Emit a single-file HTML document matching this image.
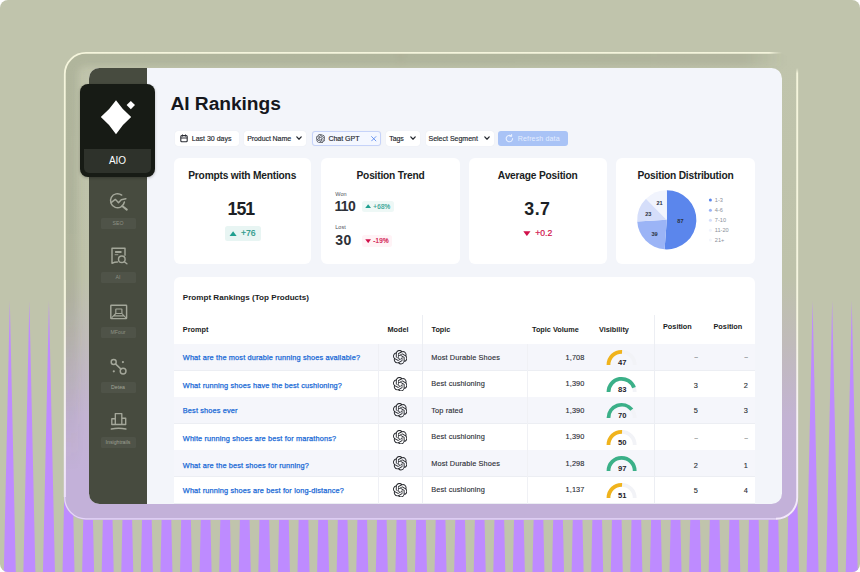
<!DOCTYPE html>
<html lang="en">
<head>
<meta charset="utf-8">
<title>AI Rankings</title>
<style>
*{box-sizing:border-box;margin:0;padding:0}
html,body{width:860px;height:572px;background:#fff;overflow:hidden}
body{font-family:"Liberation Sans",Arial,sans-serif;color:#16181d;-webkit-font-smoothing:antialiased}
#stage{position:absolute;left:0;top:0;width:860px;height:572px;background:#c0c4ac;border-radius:8px;overflow:hidden}
#spikes{position:absolute;left:0;top:0}
#frame{position:absolute;left:64px;top:52px;width:734px;height:467.5px;border-radius:22px;
 background:linear-gradient(180deg,#c0c4ac 0%,#bec2aa 48%,#c0bbba 62%,#c3b3d3 78%,#c3b1d9 90%,#c3b1d9 100%)}
#frameline{position:absolute;left:0;top:0}
#win{position:absolute;left:88.5px;top:68px;width:693.5px;height:436px;border-radius:10.5px;background:#f3f5fa;overflow:hidden}
#side{position:absolute;left:0;top:0;width:58px;height:436px;background:#474b3f}
#aio{position:absolute;left:80px;top:83.5px;width:75px;height:93.5px;border-radius:8px;background:#171b15;box-shadow:0 1px 3px rgba(0,0,0,.25)}
#aio .band{position:absolute;left:4px;top:65px;width:67px;height:24.5px;border-radius:0 0 5px 5px;background:#2e322b}
#aio .lbl{position:absolute;left:0;top:70px;width:75px;text-align:center;font-size:10px;line-height:14px;color:#fff;letter-spacing:0}
.abs{position:absolute;white-space:nowrap}
.nav{position:absolute;left:0;width:58px;text-align:center}
.navlbl{position:absolute;width:35px;height:11px;border-radius:1.5px;background:#4f5348;color:#8e9185;font-size:5.2px;line-height:11px;text-align:center}
.ico{position:absolute;stroke:#a9ac9f;fill:none;stroke-width:1.6;stroke-linecap:round;stroke-linejoin:round}

#L{position:absolute;left:-88.5px;top:-68px;width:860px;height:572px}
.btn{position:absolute;background:#fff;border-radius:3px;box-shadow:0 0 1px rgba(40,50,80,.10)}
.f{font-size:7px;line-height:10.5px;color:#24272e;letter-spacing:0;-webkit-text-stroke:.15px #24272e}
.chev{fill:none;stroke:#24272e;stroke-width:1.25;stroke-linecap:round;stroke-linejoin:round}
.card{position:absolute;background:#fff;border-radius:6px}
.ct{text-align:center;font-size:10.2px;line-height:14px;font-weight:700;color:#1a1d23;letter-spacing:-.2px}
.big{text-align:center;font-size:17.8px;line-height:25px;font-weight:700;color:#1c1f25}
.mid{font-size:14px;line-height:19px;color:#2e3138;font-weight:700}
.sm{font-size:5.5px;line-height:8px;color:#4d525c}
.badge{position:absolute;border-radius:2.5px}
.badge.up{background:#eef8f6}
.badge.dn{background:#fff3f6}
.th{font-size:7.3px;line-height:10px;font-weight:700;color:#1a1d23}
.td{font-size:7.35px;line-height:10px;color:#2a2d34;letter-spacing:.12px;-webkit-text-stroke:.12px #2a2d34}
.lk{font-size:7.35px;line-height:10px;color:#1a6ad6;letter-spacing:.15px;-webkit-text-stroke:.25px #1a6ad6}
.ds{font-size:6px}
.gv{font-size:7.6px;line-height:10px;font-weight:700;color:#1f2229;text-align:center}
</style>
</head>
<body>
<div id="stage">
<svg id="spikes" width="860" height="572" viewBox="0 0 860 572" fill="#be8bff">
<polygon points="3.80,572 9.80,301 15.80,572"/>
<polygon points="23.38,572 29.38,301 35.38,572"/>
<polygon points="42.96,572 48.96,301 54.96,572"/>
<polygon points="62.54,572 68.54,301 74.54,572"/>
<polygon points="82.12,572 88.12,301 94.12,572"/>
<polygon points="101.70,572 107.70,301 113.70,572"/>
<polygon points="121.28,572 127.28,301 133.28,572"/>
<polygon points="140.86,572 146.86,301 152.86,572"/>
<polygon points="160.44,572 166.44,301 172.44,572"/>
<polygon points="180.02,572 186.02,301 192.02,572"/>
<polygon points="199.60,572 205.60,301 211.60,572"/>
<polygon points="219.18,572 225.18,301 231.18,572"/>
<polygon points="238.76,572 244.76,301 250.76,572"/>
<polygon points="258.34,572 264.34,301 270.34,572"/>
<polygon points="277.92,572 283.92,301 289.92,572"/>
<polygon points="297.50,572 303.50,301 309.50,572"/>
<polygon points="317.08,572 323.08,301 329.08,572"/>
<polygon points="336.66,572 342.66,301 348.66,572"/>
<polygon points="356.24,572 362.24,301 368.24,572"/>
<polygon points="375.82,572 381.82,301 387.82,572"/>
<polygon points="395.40,572 401.40,301 407.40,572"/>
<polygon points="414.98,572 420.98,301 426.98,572"/>
<polygon points="434.56,572 440.56,301 446.56,572"/>
<polygon points="454.14,572 460.14,301 466.14,572"/>
<polygon points="473.72,572 479.72,301 485.72,572"/>
<polygon points="493.30,572 499.30,301 505.30,572"/>
<polygon points="512.88,572 518.88,301 524.88,572"/>
<polygon points="532.46,572 538.46,301 544.46,572"/>
<polygon points="552.04,572 558.04,301 564.04,572"/>
<polygon points="571.62,572 577.62,301 583.62,572"/>
<polygon points="591.20,572 597.20,301 603.20,572"/>
<polygon points="610.78,572 616.78,301 622.78,572"/>
<polygon points="630.36,572 636.36,301 642.36,572"/>
<polygon points="649.94,572 655.94,301 661.94,572"/>
<polygon points="669.52,572 675.52,301 681.52,572"/>
<polygon points="689.10,572 695.10,301 701.10,572"/>
<polygon points="708.68,572 714.68,301 720.68,572"/>
<polygon points="728.26,572 734.26,301 740.26,572"/>
<polygon points="747.84,572 753.84,301 759.84,572"/>
<polygon points="767.42,572 773.42,301 779.42,572"/>
<polygon points="787.00,572 793.00,301 799.00,572"/>
<polygon points="806.58,572 812.58,301 818.58,572"/>
<polygon points="826.16,572 832.16,301 838.16,572"/>
<polygon points="845.74,572 851.74,301 857.74,572"/>
</svg>
<svg width="0" height="0" style="position:absolute"><defs><path id="oai" d="M22.2819 9.8211a5.9847 5.9847 0 0 0-.5157-4.9108 6.0462 6.0462 0 0 0-6.5098-2.9A6.0651 6.0651 0 0 0 4.9807 4.1818a5.9847 5.9847 0 0 0-3.9977 2.9 6.0462 6.0462 0 0 0 .7427 7.0966 5.98 5.98 0 0 0 .511 4.9107 6.051 6.051 0 0 0 6.5146 2.9001A5.9847 5.9847 0 0 0 13.2599 24a6.0557 6.0557 0 0 0 5.7718-4.2058 5.9894 5.9894 0 0 0 3.9977-2.9001 6.0557 6.0557 0 0 0-.7475-7.0729zm-9.022 12.6081a4.4755 4.4755 0 0 1-2.8764-1.0408l.1419-.0804 4.7783-2.7582a.7948.7948 0 0 0 .3927-.6813v-6.7369l2.02 1.1686a.071.071 0 0 1 .038.052v5.5826a4.504 4.504 0 0 1-4.4945 4.4944zm-9.6607-4.1254a4.4708 4.4708 0 0 1-.5346-3.0137l.142.0852 4.783 2.7582a.7712.7712 0 0 0 .7806 0l5.8428-3.3685v2.3324a.0804.0804 0 0 1-.0332.0615L9.74 19.9502a4.4992 4.4992 0 0 1-6.1408-1.6464zM2.3408 7.8956a4.485 4.485 0 0 1 2.3655-1.9728V11.6a.7664.7664 0 0 0 .3879.6765l5.8144 3.3543-2.0201 1.1685a.0757.0757 0 0 1-.071 0l-4.8303-2.7865A4.504 4.504 0 0 1 2.3408 7.872zm16.5963 3.8558L13.1038 8.364 15.1192 7.2a.0757.0757 0 0 1 .071 0l4.8303 2.7913a4.4944 4.4944 0 0 1-.6765 8.1042v-5.6772a.79.79 0 0 0-.407-.667zm2.0107-3.0231l-.142-.0852-4.7735-2.7818a.7759.7759 0 0 0-.7854 0L9.409 9.2297V6.8974a.0662.0662 0 0 1 .0284-.0615l4.8303-2.7866a4.4992 4.4992 0 0 1 6.6802 4.66zM8.3065 12.863l-2.02-1.1638a.0804.0804 0 0 1-.038-.0567V6.0742a4.4992 4.4992 0 0 1 7.3757-3.4537l-.142.0805L8.704 5.459a.7948.7948 0 0 0-.3927.6813zm1.0976-2.3654l2.602-1.4998 2.6069 1.4998v2.9994l-2.5974 1.4997-2.6067-1.4997Z"/></defs></svg>
<div id="frame"></div>
<svg id="frameline" width="860" height="572" viewBox="0 0 860 572" fill="none">
<defs>
<linearGradient id="gl" x1="0" y1="52" x2="0" y2="519" gradientUnits="userSpaceOnUse">
<stop offset="0" stop-color="#f5f5dc"/><stop offset=".55" stop-color="#f3f3dc"/><stop offset=".85" stop-color="#f3ecf6"/><stop offset="1" stop-color="#e9d9fb"/>
</linearGradient>
<linearGradient id="gt" x1="64" y1="0" x2="782" y2="0" gradientUnits="userSpaceOnUse">
<stop offset="0" stop-color="#f5f5dc"/><stop offset=".982" stop-color="#f4f4dc"/><stop offset="1" stop-color="#eeeed6" stop-opacity="0"/>
</linearGradient>
<linearGradient id="gr" x1="0" y1="68" x2="0" y2="519" gradientUnits="userSpaceOnUse">
<stop offset="0" stop-color="#f3f3da" stop-opacity="0"/><stop offset=".012" stop-color="#f5f5dc"/><stop offset=".55" stop-color="#f5f5e0"/><stop offset=".8" stop-color="#f6f0f6"/><stop offset="1" stop-color="#f3e8fc"/>
</linearGradient>
<linearGradient id="sa" x1="0" y1="52" x2="0" y2="470" gradientUnits="userSpaceOnUse"><stop offset="0" stop-color="#5f644b" stop-opacity=".17"/><stop offset=".6" stop-color="#5f644b" stop-opacity=".16"/><stop offset="1" stop-color="#5f644b" stop-opacity="0"/></linearGradient>
<linearGradient id="sb" x1="400" y1="0" x2="784" y2="0" gradientUnits="userSpaceOnUse"><stop offset="0" stop-color="#5f644b" stop-opacity=".17"/><stop offset=".9" stop-color="#5f644b" stop-opacity=".16"/><stop offset="1" stop-color="#5f644b" stop-opacity="0"/></linearGradient>
<filter id="bl" x="-5%" y="-5%" width="110%" height="110%"><feGaussianBlur stdDeviation="3.500"/></filter>
<clipPath id="fc"><rect x="64.700" y="52.700" width="732.600" height="466.100" rx="21.300"/></clipPath>
</defs>
<g clip-path="url(#fc)"><g filter="url(#bl)"><path d="M65 470 V74 A21 21 0 0 1 86 53 H401" stroke="url(#sa)" stroke-width="26"/><path d="M400 53 H784" stroke="url(#sb)" stroke-width="26"/></g></g>
<path d="M64.800 497 V74 A21.200 21.200 0 0 1 86 52.900" stroke="url(#gl)" stroke-width="1.800"/>
<path d="M64.7 300 V497 A21.3 21.3 0 0 0 86 518.8 H776 " stroke="#e6d6fa" stroke-width="1.3"/>
<path d="M64.800 280 V497" stroke="url(#gl)" stroke-width="1.800"/>
<path d="M86 52.900 H782" stroke="url(#gt)" stroke-width="1.900"/>
<path d="M797.200 68 V497 A21.3 21.3 0 0 1 776 518.8" stroke="url(#gr)" stroke-width="1.900"/>
</svg>
<div id="win">
<div id="side"></div>
<div id="L">
<div class="abs t" id="title" style="left:170.5px;top:90.800px;font-size:19.2px;line-height:26px;font-weight:700;color:#15171c;letter-spacing:-.05px">AI Rankings</div>

<!-- filters -->
<div class="btn" style="left:174.5px;top:131.3px;width:64px;height:14.4px"></div>
<svg class="abs" style="left:179.5px;top:134.3px" width="8" height="8.6" viewBox="0 0 8 8.6" fill="none" stroke="#2a2d34" stroke-width="1.1"><rect x=".8" y="1.6" width="6.4" height="6.2" rx="1"/><path d="M.8 4h6.4M2.5.4v2M5.500.4v2"/></svg>
<div class="abs f" id="f1" style="left:191.8px;top:133.800px">Last 30 days</div>
<div class="btn" style="left:243.8px;top:131.3px;width:62px;height:14.4px"></div>
<div class="abs f" id="f2" style="letter-spacing:-.08px;left:247.2px;top:133.800px">Product Name</div>
<svg class="abs chev" style="left:296.200px;top:136.3px" width="6" height="4.500" viewBox="0 0 6 4.500"><path d="M.8.900 3 3.200 5.200.900"/></svg>
<div class="btn" style="left:311.8px;top:131.3px;width:69px;height:14.6px;background:#f4f7ff;border:1px solid #c6d3f9"></div>
<svg class="abs" style="left:316px;top:134px" width="9.200" height="9.200" viewBox="0 0 24 24" fill="#2a2d34"><use href="#oai"/></svg>
<div class="abs f" id="f3" style="left:328.400px;top:133.800px">Chat GPT</div>
<svg class="abs" style="left:371px;top:136px" width="5.500" height="5.500" viewBox="0 0 5.500 5.500" fill="none" stroke="#5d8cee" stroke-width=".9" stroke-linecap="round"><path d="M.6.600 4.900 4.900M4.900.6.600 4.900"/></svg>
<div class="btn" style="left:386px;top:131.3px;width:33.800px;height:14.4px"></div>
<div class="abs f" id="f4" style="letter-spacing:-.15px;left:389.300px;top:133.800px">Tags</div>
<svg class="abs chev" style="left:409.800px;top:136.3px" width="6" height="4.500" viewBox="0 0 6 4.500"><path d="M.8.900 3 3.200 5.200.900"/></svg>
<div class="btn" style="left:425.600px;top:131.3px;width:68px;height:14.4px"></div>
<div class="abs f" id="f5" style="left:428.500px;top:133.800px">Select Segment</div>
<svg class="abs chev" style="left:483.700px;top:136.3px" width="6" height="4.500" viewBox="0 0 6 4.500"><path d="M.8.900 3 3.200 5.200.900"/></svg>
<div class="btn" style="left:498.400px;top:131.200px;width:70px;height:14.800px;background:#a9c3f6;border-radius:3px;box-shadow:none"></div>
<svg class="abs" style="left:504.500px;top:134.200px" width="9" height="9" viewBox="0 0 9 9" fill="none" stroke="#e8f0ff" stroke-width="1.100" stroke-linecap="round" stroke-linejoin="round"><path d="M7.600 4.600A3.200 3.200 0 1 1 6.300 2"/><path d="M6.600.6v1.700H4.900"/></svg>
<div class="abs f" id="f6" style="letter-spacing:.15px;-webkit-text-stroke:0;left:517.800px;top:133.800px;color:#e4edff">Refresh data</div>

<!-- stat cards -->
<div class="card" style="left:173.700px;top:157.700px;width:137px;height:106.300px"></div>
<div class="card" style="left:321.300px;top:157.700px;width:138.400px;height:106.300px"></div>
<div class="card" style="left:468.700px;top:157.700px;width:138px;height:106.300px"></div>
<div class="card" style="left:616.300px;top:157.700px;width:138.400px;height:106.300px"></div>

<div class="abs ct" id="c1t" style="margin-top:.6px;left:173.700px;width:137px;top:168px">Prompts with Mentions</div>
<div class="abs big" id="c1n" style="letter-spacing:-1px;margin-top:1.100px;margin-left:-1.300px;left:173.700px;width:137px;top:196px">151</div>
<div class="badge up" style="left:225px;top:226px;width:35.500px;height:14.700px;background:#e8f5f3"></div>
<svg class="abs" style="left:228.900px;top:230.700px" width="8.200" height="5.700" viewBox="0 0 8 5.500" fill="#1f9f8f"><path d="M4 .3 7.700 5.200H.3z"/></svg>
<div class="abs" id="c1b" style="left:241px;top:227.300px;font-size:8.600px;line-height:12px;color:#1f9586;-webkit-text-stroke:.2px #1f9586">+76</div>

<div class="abs ct" id="c2t" style="margin-top:.6px;left:321.300px;width:138.400px;top:168px">Position Trend</div>
<div class="abs sm" id="c2a" style="left:335.300px;top:189.500px">Won</div>
<div class="abs mid" id="c2b" style="letter-spacing:-.6px;margin-top:-.5px;left:334.400px;top:197.500px">110</div>
<div class="badge up" style="left:362px;top:200.800px;width:31.500px;height:11.500px"></div>
<svg class="abs" style="left:365px;top:204.300px" width="6.300" height="4.400" viewBox="0 0 8 5.500" fill="#1f9f8f"><path d="M4 .3 7.700 5.200H.3z"/></svg>
<div class="abs" id="c2c" style="left:373.300px;top:201.500px;font-size:6.300px;line-height:10px;color:#2ea191;-webkit-text-stroke:.15px #2ea191;letter-spacing:.2px">+68%</div>
<div class="abs sm" id="c2d" style="left:335.300px;top:223px">Lost</div>
<div class="abs mid" id="c2e" style="letter-spacing:.6px;margin-top:-.3px;left:335.200px;top:231.500px">30</div>
<div class="badge dn" style="left:362px;top:235px;width:30px;height:11.500px"></div>
<svg class="abs" style="left:365px;top:238.700px" width="6.300" height="4.400" viewBox="0 0 8 5.500" fill="#d1104a"><path d="M4 5.200 7.700.3H.3z"/></svg>
<div class="abs" id="c2f" style="left:373.300px;top:235.800px;font-size:6.300px;line-height:10px;color:#d1104a;-webkit-text-stroke:.2px #d1104a;letter-spacing:.2px">-19%</div>

<div class="abs ct" id="c3t" style="margin-top:.6px;left:468.700px;width:138px;top:168px">Average Position</div>
<div class="abs big" id="c3n" style="letter-spacing:.5px;margin-top:1.100px;margin-left:-.3px;left:468.700px;width:138px;top:196px">3.7</div>
<div class="badge dn" style="left:520.500px;top:225.500px;width:36px;height:14.700px;background:#fff"></div>
<svg class="abs" style="left:523.100px;top:230.800px" width="7.800" height="5.400" viewBox="0 0 8 5.500" fill="#d1104a"><path d="M4 5.200 7.700.3H.3z"/></svg>
<div class="abs" id="c3b" style="left:535.300px;top:227px;font-size:8.600px;line-height:12px;color:#d1104a;-webkit-text-stroke:.2px #d1104a">+0.2</div>

<div class="abs ct" id="c4t" style="margin-top:.6px;left:616.300px;width:138.400px;top:168px">Position Distribution</div>
<svg class="abs" style="left:630px;top:185px" width="130" height="70" viewBox="630 185 130 70">
<path d="M666.8 219.8 L666.80 190.20 A29.6 29.6 0 1 1 664.61 249.32Z" fill="#5b86ec"/>
<path d="M666.8 219.8 L664.61 249.32 A29.6 29.6 0 0 1 637.25 221.44Z" fill="#9bb4f6"/>
<path d="M666.8 219.8 L637.25 221.44 A29.6 29.6 0 0 1 646.06 198.68Z" fill="#d5defa"/>
<path d="M666.8 219.8 L646.06 198.68 A29.6 29.6 0 0 1 666.80 190.20Z" fill="#f1f4fd"/>
<text x="680.4" y="223.3" text-anchor="middle" font-size="5.600" font-weight="700" fill="#2b3140" font-family="Liberation Sans,sans-serif">87</text>
<text x="654.6" y="235.5" text-anchor="middle" font-size="5.600" font-weight="700" fill="#2b3140" font-family="Liberation Sans,sans-serif">39</text>
<text x="648.3" y="215.60000000000002" text-anchor="middle" font-size="5.600" font-weight="700" fill="#2b3140" font-family="Liberation Sans,sans-serif">23</text>
<text x="659.5" y="204.8" text-anchor="middle" font-size="5.600" font-weight="700" fill="#2b3140" font-family="Liberation Sans,sans-serif">21</text>
<circle cx="710.4" cy="199.9" r="1.5" fill="#5b86ec"/><text x="714.8" y="201.8" font-size="5.600" fill="#8a8f9a" font-family="Liberation Sans,sans-serif">1-3</text>
<circle cx="710.4" cy="210.3" r="1.5" fill="#9bb4f6"/><text x="714.8" y="212.20000000000002" font-size="5.600" fill="#8a8f9a" font-family="Liberation Sans,sans-serif">4-6</text>
<circle cx="710.4" cy="220.2" r="1.5" fill="#d5defa"/><text x="714.8" y="222.1" font-size="5.600" fill="#8a8f9a" font-family="Liberation Sans,sans-serif">7-10</text>
<circle cx="710.4" cy="230.2" r="1.5" fill="#f1f4fd"/><text x="714.8" y="232.1" font-size="5.600" fill="#8a8f9a" font-family="Liberation Sans,sans-serif">11-20</text>
<circle cx="710.4" cy="240" r="1.5" fill="#f4f6fc"/><text x="714.8" y="241.9" font-size="5.600" fill="#8a8f9a" font-family="Liberation Sans,sans-serif">21+</text>

</svg>
<div class="card" style="left:173.700px;top:277px;width:581px;height:240px;border-radius:6px 6px 0 0"></div>
<div class="abs" id="tt" style="left:182.800px;top:291.500px;font-size:8.100px;line-height:12px;font-weight:700;color:#1b1e25">Prompt Rankings (Top Products)</div>
<div class="abs th" id="h1" style="left:182.8px;top:324.6px">Prompt</div>
<div class="abs th" id="h2" style="left:387.5px;top:324.6px">Model</div>
<div class="abs th" id="h3" style="left:431.5px;top:324.6px">Topic</div>
<div class="abs th" id="h4" style="left:532px;top:324.6px">Topic Volume</div>
<div class="abs th" id="h5" style="left:599px;top:324.6px">Visibility</div>
<div class="abs th" id="h6" style="left:663px;top:321.5px">Position</div>
<div class="abs th" id="h7" style="left:713.5px;top:321.5px">Position</div>
<div class="abs" style="left:173.700px;top:344.0px;width:581px;height:26.5px;background:#f5f6fb"></div>
<div class="abs" style="left:173.700px;top:370.0px;width:581px;height:1px;background:#eceef3"></div>
<div class="abs" style="left:173.700px;top:396.5px;width:581px;height:1px;background:#eceef3"></div>
<div class="abs" style="left:173.700px;top:397.0px;width:581px;height:26.5px;background:#f5f6fb"></div>
<div class="abs" style="left:173.700px;top:423.0px;width:581px;height:1px;background:#eceef3"></div>
<div class="abs" style="left:173.700px;top:449.5px;width:581px;height:1px;background:#eceef3"></div>
<div class="abs" style="left:173.700px;top:450.0px;width:581px;height:26.5px;background:#f5f6fb"></div>
<div class="abs" style="left:173.700px;top:476.0px;width:581px;height:1px;background:#eceef3"></div>
<div class="abs" style="left:173.700px;top:502.5px;width:581px;height:1px;background:#eceef3"></div>
<div class="abs" style="left:378px;top:344px;width:1px;height:170px;background:#eff0f5"></div>
<div class="abs" style="left:422px;top:315px;width:1px;height:200px;background:#eceef3"></div>
<div class="abs" style="left:526.500px;top:344px;width:1px;height:170px;background:#f0f1f5"></div>
<div class="abs" style="left:654.200px;top:315px;width:1px;height:200px;background:#eceef3"></div>
<div class="abs lk" id="p0" style="left:182.800px;top:352.70px">What are the most durable running shoes available?</div>
<svg class="abs" style="left:393px;top:350.35px" width="14.400" height="14.400" viewBox="0 0 24 24" fill="#25272c"><use href="#oai"/></svg>
<div class="abs td" id="t0" style="left:431.300px;top:352.95px">Most Durable Shoes</div>
<div class="abs td" id="v0" style="left:540px;width:44.500px;text-align:right;top:352.95px">1,708</div>
<svg class="abs" style="left:600px;top:344.0px" width="44" height="26.5" viewBox="600 344.0 44 26.5" fill="none" stroke-width="3.8"><path d="M608.5 364.9 A13.1 13.1 0 0 1 634.7 364.9" stroke="#f2f3f7"/><path d="M608.5 364.9 A13.1 13.1 0 0 1 622.06 351.81" stroke="#f0b31c"/></svg>
<div class="abs gv" id="g0" style="left:612.200px;width:20px;top:358.00px">47</div>
<div class="abs td" id="a0" style="left:677px;width:21px;text-align:right;top:352.00px"><span class="ds">–</span></div>
<div class="abs td" id="b0" style="left:727px;width:21px;text-align:right;top:352.00px"><span class="ds">–</span></div>
<div class="abs lk" id="p1" style="left:182.800px;top:380.70px">What running shoes have the best cushioning?</div>
<svg class="abs" style="left:393px;top:376.85px" width="14.400" height="14.400" viewBox="0 0 24 24" fill="#25272c"><use href="#oai"/></svg>
<div class="abs td" id="t1" style="left:431.300px;top:379.45px">Best cushioning</div>
<div class="abs td" id="v1" style="left:540px;width:44.500px;text-align:right;top:379.45px">1,390</div>
<svg class="abs" style="left:600px;top:370.5px" width="44" height="26.5" viewBox="600 370.5 44 26.5" fill="none" stroke-width="3.8"><path d="M608.5 391.4 A13.1 13.1 0 0 1 634.7 391.4" stroke="#f2f3f7"/><path d="M608.5 391.4 A13.1 13.1 0 0 1 633.99 387.14" stroke="#3bb088"/></svg>
<div class="abs gv" id="g1" style="left:612.200px;width:20px;top:384.50px">83</div>
<div class="abs td" id="a1" style="left:677px;width:21px;text-align:right;top:380.70px">3</div>
<div class="abs td" id="b1" style="left:727px;width:21px;text-align:right;top:380.70px">2</div>
<div class="abs lk" id="p2" style="left:182.800px;top:405.70px">Best shoes ever</div>
<svg class="abs" style="left:393px;top:403.35px" width="14.400" height="14.400" viewBox="0 0 24 24" fill="#25272c"><use href="#oai"/></svg>
<div class="abs td" id="t2" style="left:431.300px;top:405.95px">Top rated</div>
<div class="abs td" id="v2" style="left:540px;width:44.500px;text-align:right;top:405.95px">1,390</div>
<svg class="abs" style="left:600px;top:397.0px" width="44" height="26.5" viewBox="600 397.0 44 26.5" fill="none" stroke-width="3.8"><path d="M608.5 417.9 A13.1 13.1 0 0 1 634.7 417.9" stroke="#f2f3f7"/><path d="M608.5 417.9 A13.1 13.1 0 0 1 631.78 409.66" stroke="#3bb088"/></svg>
<div class="abs gv" id="g2" style="left:612.200px;width:20px;top:411.00px">70</div>
<div class="abs td" id="a2" style="left:677px;width:21px;text-align:right;top:405.70px">5</div>
<div class="abs td" id="b2" style="left:727px;width:21px;text-align:right;top:405.70px">3</div>
<div class="abs lk" id="p3" style="left:182.800px;top:433.70px">White running shoes are best for marathons?</div>
<svg class="abs" style="left:393px;top:429.85px" width="14.400" height="14.400" viewBox="0 0 24 24" fill="#25272c"><use href="#oai"/></svg>
<div class="abs td" id="t3" style="left:431.300px;top:432.45px">Best cushioning</div>
<div class="abs td" id="v3" style="left:540px;width:44.500px;text-align:right;top:432.45px">1,390</div>
<svg class="abs" style="left:600px;top:423.5px" width="44" height="26.5" viewBox="600 423.5 44 26.5" fill="none" stroke-width="3.8"><path d="M608.5 444.4 A13.1 13.1 0 0 1 634.7 444.4" stroke="#f2f3f7"/><path d="M608.5 444.4 A13.1 13.1 0 0 1 622.06 431.31" stroke="#f0b31c"/></svg>
<div class="abs gv" id="g3" style="left:612.200px;width:20px;top:437.50px">50</div>
<div class="abs td" id="a3" style="left:677px;width:21px;text-align:right;top:433.00px"><span class="ds">–</span></div>
<div class="abs td" id="b3" style="left:727px;width:21px;text-align:right;top:433.00px"><span class="ds">–</span></div>
<div class="abs lk" id="p4" style="left:182.800px;top:460.70px">What are the best shoes for running?</div>
<svg class="abs" style="left:393px;top:456.35px" width="14.400" height="14.400" viewBox="0 0 24 24" fill="#25272c"><use href="#oai"/></svg>
<div class="abs td" id="t4" style="left:431.300px;top:458.95px">Most Durable Shoes</div>
<div class="abs td" id="v4" style="left:540px;width:44.500px;text-align:right;top:458.95px">1,298</div>
<svg class="abs" style="left:600px;top:450.0px" width="44" height="26.5" viewBox="600 450.0 44 26.5" fill="none" stroke-width="3.8"><path d="M608.5 470.9 A13.1 13.1 0 0 1 634.7 470.9" stroke="#f2f3f7"/><path d="M608.5 470.9 A13.1 13.1 0 0 1 634.70 470.90" stroke="#3bb088"/></svg>
<div class="abs gv" id="g4" style="left:612.200px;width:20px;top:464.00px">97</div>
<div class="abs td" id="a4" style="left:677px;width:21px;text-align:right;top:460.70px">2</div>
<div class="abs td" id="b4" style="left:727px;width:21px;text-align:right;top:460.70px">1</div>
<div class="abs lk" id="p5" style="left:182.800px;top:485.70px">What running shoes are best for long-distance?</div>
<svg class="abs" style="left:393px;top:482.85px" width="14.400" height="14.400" viewBox="0 0 24 24" fill="#25272c"><use href="#oai"/></svg>
<div class="abs td" id="t5" style="left:431.300px;top:485.45px">Best cushioning</div>
<div class="abs td" id="v5" style="left:540px;width:44.500px;text-align:right;top:485.45px">1,137</div>
<svg class="abs" style="left:600px;top:476.5px" width="44" height="26.5" viewBox="600 476.5 44 26.5" fill="none" stroke-width="3.8"><path d="M608.5 497.4 A13.1 13.1 0 0 1 634.7 497.4" stroke="#f2f3f7"/><path d="M608.5 497.4 A13.1 13.1 0 0 1 622.06 484.31" stroke="#f0b31c"/></svg>
<div class="abs gv" id="g5" style="left:612.200px;width:20px;top:490.50px">51</div>
<div class="abs td" id="a5" style="left:677px;width:21px;text-align:right;top:485.70px">5</div>
<div class="abs td" id="b5" style="left:727px;width:21px;text-align:right;top:485.70px">4</div>
<svg class="abs" style="left:88.5px;top:68px" width="58" height="436" viewBox="88.5 68 58 436" fill="none" stroke="#a4a79a" stroke-width="1.45" stroke-linecap="round" stroke-linejoin="round">
<!-- seo -->
<path d="M121.200 195.100A7 7 0 1 0 123.900 202"/>
<path d="M110.600 202.600 114.800 199.400 116.700 201.200 118 202.800 120.800 199.700 125.400 198.700"/>
<path d="M122 206.200 126.300 209.600" stroke-width="2"/>
<!-- ai doc -->
<path d="M124.500 255.300V248.200H111.500V263.300C113.300 262.400 115 262 117 262"/>
<path d="M114.600 252H121" stroke-width="1.900" stroke-linecap="butt"/>
<path d="M114.600 254.700H117.400" stroke-width=".9"/>
<circle cx="121.300" cy="259.300" r="3.300"/>
<path d="M123.800 261.800 126.400 263.800"/>
<!-- mfour -->
<rect x="110.300" y="305.200" width="15.800" height="13.400" rx=".6"/>
<rect x="115.300" y="309" width="6.100" height="4.500" rx=".4" stroke-width="1.200"/>
<path d="M115.300 313.500 111.300 317.600M121.400 313.500 125.200 317.600M113.500 315.900H123.200" stroke-width="1.100"/>
<!-- share -->
<circle cx="113.200" cy="362" r="2.500"/>
<circle cx="122.600" cy="371.100" r="2.900"/>
<path d="M115 363.900 120.500 369.100"/>
<circle cx="122.400" cy="362.100" r="1.100" fill="#a4a79a" stroke="none"/>
<circle cx="113.300" cy="371.300" r="1.100" fill="#a4a79a" stroke="none"/>
<!-- bars -->
<path d="M114.800 424.500V413.600H121.300V424.500M111.300 424.500V418.700H114.800M121.300 418.200H125.200V424.500M111.300 424.500H125.200" stroke-width="1.350"/>
<path d="M110.800 429Q118.100 427.400 125.400 429" stroke-width="1.350"/>
</svg>
<div class="navlbl" style="left:100.500px;top:217.800px">SEO</div>
<div class="navlbl" style="left:100.500px;top:272px">AI</div>
<div class="navlbl" style="left:100.500px;top:327px">MFour</div>
<div class="navlbl" style="left:100.500px;top:382.300px;color:#a3a699">Detea</div>
<div class="navlbl" style="left:100.500px;top:437px;color:#9da093">Insightrails</div>
</div>

</div>
<div id="aio">
<svg class="abs" style="left:0;top:0" width="75" height="66" viewBox="80 83.5 75 66" fill="#fff">
<path d="M116 99.800 Q122.400 109.300 131.200 116.600 Q122.400 124 116 133.700 Q109.600 124 100.800 116.600 Q109.600 109.300 116 99.800Z"/>
<path d="M130.800 100.400 L135 104.600 L130.800 108.800 L126.600 104.600Z"/>
</svg>
<div class="band"></div>
<div class="lbl">AIO</div>
</div>
</div>
</body>
</html>
